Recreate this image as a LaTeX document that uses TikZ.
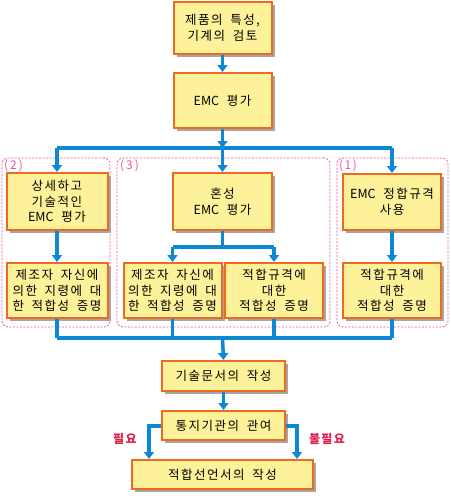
\documentclass[tikz,border=0pt]{standalone}
\usepackage{fontspec}
\setmainfont{Noto Sans CJK KR}[LetterSpace=12, WordSpace=1.8]
\newfontfamily\latf{Noto Sans CJK KR}[WordSpace=1.8]
\newcommand{\EMCw}{{\latf EMC}}
\usetikzlibrary{arrows.meta,shadows}
\definecolor{boxfill}{HTML}{FDF29A}
\definecolor{boxline}{HTML}{EE6A1E}
\definecolor{flowc}{HTML}{0C88D4}
\definecolor{dashpink}{HTML}{E8559A}
\definecolor{labred}{HTML}{E0204A}
\tikzset{
  fbox/.style={draw=boxline, fill=boxfill, line width=2pt, align=center, inner sep=0pt,
    font=\fontsize{12.5}{15.7}\selectfont,
    drop shadow={shadow xshift=3pt, shadow yshift=-3pt, fill=black!35, opacity=1}},
  fl/.style={draw=flowc, line width=3.5pt},
  fa/.style={fl, -{Triangle[width=10pt,length=7pt]}},
  grp/.style={draw=dashpink, dash pattern=on 2pt off 1.5pt, line width=0.8pt, rounded corners=6pt},
  grplab/.style={text=dashpink, font=\fontsize{12}{13}\selectfont, anchor=west, inner sep=0pt},
  sidelab/.style={text=labred, font=\fontsize{12}{13}\selectfont\bfseries, inner sep=0pt}
}
\begin{document}
\begin{tikzpicture}[x=1pt,y=-1pt]
\useasboundingbox (0,0) rectangle (450,498);
% groups
\node[grp, minimum width=108pt, minimum height=169pt] (g2) at (56,242.5) {};
\node[grp, minimum width=213pt, minimum height=169pt] (g3) at (223.5,242.5) {};
\node[grp, minimum width=111pt, minimum height=169pt] (g1) at (392.5,242.5) {};
\node[grplab] (l2) at (4,166) {(\,2\,)};
\node[grplab] (l3) at (120,166) {(\,3\,)};
\node[grplab] (l1) at (339,166) {(1)};
% boxes
\node[fbox, minimum width=98pt, minimum height=52pt] (top) at (222.5,28) {제품의 특성,\\기계의 검토};
\node[fbox, minimum width=98pt, minimum height=55pt] (emc) at (222.5,100.5) {\EMCw{} 평가};
\node[fbox, minimum width=101pt, minimum height=57pt] (a1) at (57,201.5) {상세하고\\기술적인\\\EMCw{} 평가};
\node[fbox, minimum width=99pt, minimum height=57pt] (b1) at (222.5,201.5) {혼성\\\EMCw{} 평가};
\node[fbox, minimum width=98pt, minimum height=56pt] (c1) at (392,202) {\EMCw{} 정합규격\\사용};
\node[fbox, minimum width=101pt, minimum height=55pt] (a2) at (57,290.5) {제조자 자신에\\의한 지령에 대\\한 적합성 증명};
\node[fbox, minimum width=98pt, minimum height=55pt] (b2) at (172.5,290.5) {제조자 자신에\\의한 지령에 대\\한 적합성 증명};
\node[fbox, minimum width=98pt, minimum height=55pt] (c2) at (274,290.5) {적합규격에\\대한\\적합성 증명};
\node[fbox, minimum width=98pt, minimum height=55pt] (d2) at (392,290.5) {적합규격에\\대한\\적합성 증명};
\node[fbox, minimum width=123pt, minimum height=30pt] (doc) at (223.5,376) {기술문서의 작성};
\node[fbox, minimum width=123pt, minimum height=29pt] (nb) at (223.5,425.5) {통지기관의 관여};
\node[fbox, minimum width=181pt, minimum height=29pt] (decl) at (222.5,474.5) {적합선언서의 작성};
% connectors
\coordinate (bus1) at (222.5,148);
\coordinate (bus2) at (222.5,247);
\coordinate (bus3) at (222.5,338);
\coordinate (nl) at (149,426);
\coordinate (nr) at (297,426);
\draw[fa] (top) -- (emc);
\draw[fa] (emc) -- (bus1);
\draw[fl] (a1.north |- bus1) -- (c1.north |- bus1);
\draw[fa] (a1.north |- bus1) -- (a1.north);
\draw[fa] (bus1) -- (b1.north);
\draw[fa] (c1.north |- bus1) -- (c1.north);
\draw[fa] (a1) -- (a2);
\draw[fa] (c1) -- (d2);
\draw[fl] (b1.south) -- (bus2);
\draw[fl] (b2.north |- bus2) -- (c2.north |- bus2);
\draw[fa] (b2.north |- bus2) -- (b2.north);
\draw[fa] (c2.north |- bus2) -- (c2.north);
\draw[fl] (a2.south) -- (a2.south |- bus3);
\draw[fl] (b2.south) -- (b2.south |- bus3);
\draw[fl] (c2.south) -- (c2.south |- bus3);
\draw[fl] (d2.south) -- (d2.south |- bus3);
\draw[fl] (a2.south |- bus3) -- (d2.south |- bus3);
\draw[fa] (bus3) -- (doc.north);
\draw[fa] (doc) -- (nb);
\draw[fa] (nb.west |- nl) -- (nl) -- (nl |- decl.north);
\draw[fa] (nb.east |- nr) -- (nr) -- (nr |- decl.north);
\node[sidelab] (need) at (125,439) {필요};
\node[sidelab] (noneed) at (327,439) {불필요};
\end{tikzpicture}
\end{document}
